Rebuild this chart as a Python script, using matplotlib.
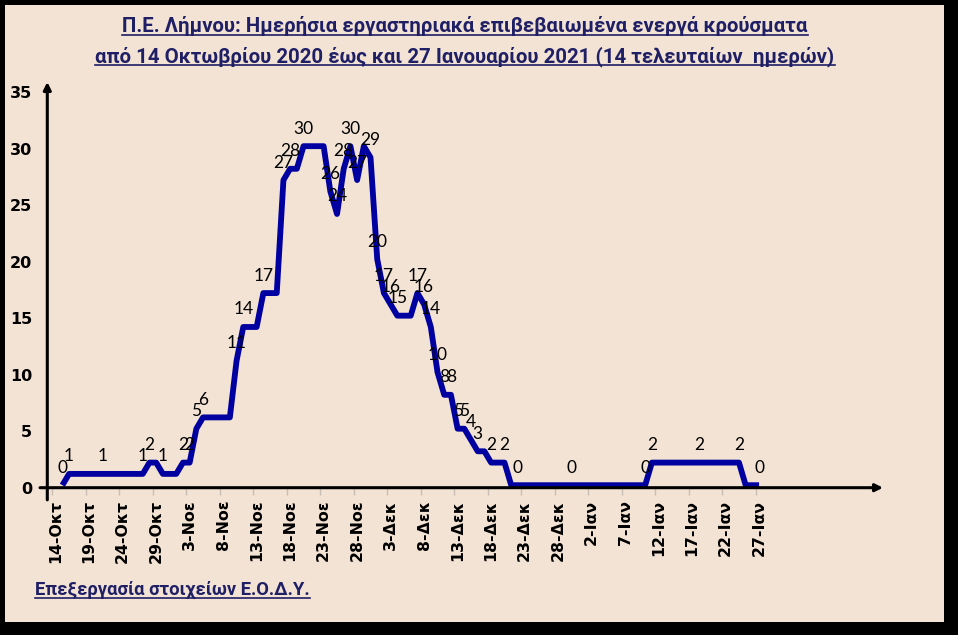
import matplotlib
matplotlib.use("Agg")
import matplotlib.pyplot as plt
from matplotlib.lines import Line2D
from matplotlib.patches import Rectangle
from matplotlib.transforms import offset_copy

W, H = 958, 635

# day index: 0 = 14-Oct-2020 ... 105 = 27-Jan-2021
days = list(range(1, 106))
cases = [0, 1, 1, 1, 1, 1, 1, 1, 1, 1, 1, 1, 1, 2, 2, 1, 1, 1, 2, 2,
         5, 6, 6, 6, 6, 6, 11, 14, 14, 14, 17, 17, 17, 27, 28, 28, 30, 30, 30, 30,
         26, 24, 28, 30, 27, 30, 29, 20, 17, 16, 15, 15, 15, 17, 16, 14, 10, 8, 8, 5,
         5, 4, 3, 3, 2, 2, 2, 0, 0, 0, 0, 0, 0, 0, 0, 0, 0, 0, 0, 0,
         0, 0, 0, 0, 0, 0, 0, 0, 2, 2, 2, 2, 2, 2, 2, 2, 2, 2, 2, 2,
         2, 2, 0, 0, 0]

# points that carry a data label in the original
label_days = [1, 2, 7, 13, 14, 16, 19, 20, 21, 22, 27, 28, 31, 34, 35, 37, 41, 42,
              43, 44, 45, 47, 48, 49, 50, 51, 54, 55, 56, 57, 58, 59, 60, 61, 62,
              63, 65, 67, 69, 77, 88, 89, 96, 102, 105]

tick_days = list(range(0, 106, 5))
tick_labels = ['14-Οκτ', '19-Οκτ', '24-Οκτ', '29-Οκτ', '3-Νοε', '8-Νοε', '13-Νοε',
               '18-Νοε', '23-Νοε', '28-Νοε', '3-Δεκ', '8-Δεκ', '13-Δεκ', '18-Δεκ',
               '23-Δεκ', '28-Δεκ', '2-Ιαν', '7-Ιαν', '12-Ιαν', '17-Ιαν', '22-Ιαν',
               '27-Ιαν']

title1 = "Π.Ε. Λήμνου: Ημερήσια εργαστηριακά επιβεβαιωμένα ενεργά κρούσματα"
title2 = "από 14 Οκτωβρίου 2020 έως και 27 Ιανουαρίου 2021 (14 τελευταίων  ημερών)"
footer = "Επεξεργασία στοιχείων Ε.Ο.Δ.Υ."

BG = "#f3e3d4"
NAVY = "#1f1f66"
LINE = "#0000a0"
TFONT = ["Roboto", "DejaVu Sans"]

fig = plt.figure(figsize=(W / 100, H / 100), dpi=100, facecolor="black")
fig.patches.append(Rectangle((5 / W, 1 - 622 / H), 939 / W, 617 / H,
                             transform=fig.transFigure, facecolor=BG,
                             edgecolor="none", zorder=-1))

ax = fig.add_axes([47.3 / W, 1 - 487.7 / H, (883 - 47.3) / W, (487.7 - 82) / H])
ax.patch.set_visible(False)
for s in ax.spines.values():
    s.set_visible(False)
ax.set_xlim(-1.25, 123.5)
ax.set_ylim(0, 35.9)

# the original draws its line a hair above the axis, so the zero runs show
lifted = offset_copy(ax.transData, fig=fig, x=0, y=2.5, units="dots")
ax.plot(days, cases, color=LINE, lw=4.2, solid_joinstyle="round",
        solid_capstyle="butt", zorder=3, clip_on=False, transform=lifted)
for d in label_days:
    ax.annotate(str(cases[d - 1]), (d, cases[d - 1]), xytext=(0, 14.4),
                textcoords="offset points", ha="center", va="center",
                fontsize=12.5, family=["Lato", "DejaVu Sans"], color="black", zorder=4)

# axes with arrow heads
arrow = dict(arrowstyle="-|>", lw=2.2, color="black", mutation_scale=11,
             shrinkA=0, shrinkB=0)
ax.annotate("", xy=(1, 0), xytext=(-0.0087, 0), xycoords="axes fraction",
            arrowprops=arrow, zorder=5, annotation_clip=False)
ax.annotate("", xy=(0, 1), xytext=(0, -0.03), xycoords="axes fraction",
            arrowprops=arrow, zorder=5, annotation_clip=False)

ax.set_xticks([d - 0.5 for d in tick_days])
ax.set_xticklabels([])
ax.tick_params(axis="x", which="major", length=5, width=1, color="#c8bdb2")
ax.set_xticks(tick_days, tick_labels, minor=True)
ax.tick_params(axis="x", which="minor", length=0, pad=8.5)
for t in ax.get_xticklabels(minor=True):
    t.set_rotation(90)
    t.set_fontweight("bold")
    t.set_fontsize(11.3)

ax.set_yticks(range(0, 36, 5))
ax.tick_params(axis="y", length=0, pad=11)
for t in ax.get_yticklabels():
    t.set_fontweight("bold")
    t.set_fontsize(11.5)


def fitted_size(s, width):
    t = fig.text(0, 0, s, fontsize=14, fontweight="bold", family=TFONT)
    fig.canvas.draw()
    w = t.get_window_extent().width
    t.remove()
    return 14 * width / w


def underlined(s, x, y, size, ha):
    t = fig.text(x / W, 1 - y / H, s, ha=ha, va="baseline", color=NAVY,
                 fontsize=size, fontweight="bold", family=TFONT)
    fig.canvas.draw()
    bb = t.get_window_extent()
    yl = (H - y - 3) / H
    fig.add_artist(Line2D([bb.x0 / W, bb.x1 / W], [yl, yl], color=NAVY, lw=1.2,
                          transform=fig.transFigure))


tsize = (fitted_size(title1, 650) + fitted_size(title2, 786)) / 2
underlined(title1, 465, 32, tsize, "center")
underlined(title2, 465, 62, tsize, "center")
underlined(footer, 35, 595, fitted_size(footer, 277), "left")

fig.savefig("out.png", dpi=100, facecolor=fig.get_facecolor())
